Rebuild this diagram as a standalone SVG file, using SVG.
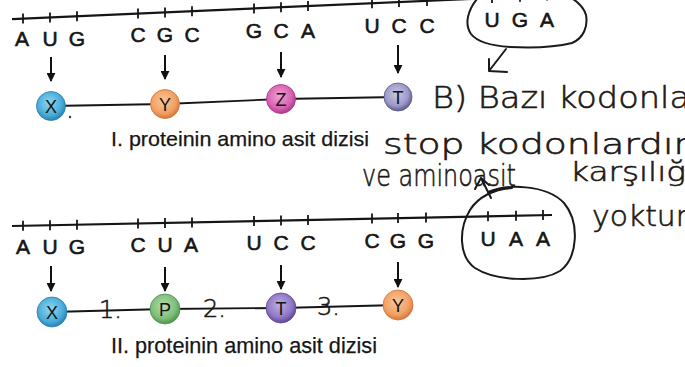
<svg xmlns="http://www.w3.org/2000/svg" width="685" height="367" viewBox="0 0 685 367">
  <defs>
    <radialGradient id="gBlue" cx="45%" cy="40%" r="60%">
      <stop offset="0" stop-color="#8fd6f2"/>
      <stop offset="0.7" stop-color="#49acd9"/>
      <stop offset="1" stop-color="#2a80b4"/>
    </radialGradient>
    <radialGradient id="gOrange" cx="45%" cy="40%" r="60%">
      <stop offset="0" stop-color="#fbc79a"/>
      <stop offset="0.7" stop-color="#f1a064"/>
      <stop offset="1" stop-color="#d8773a"/>
    </radialGradient>
    <radialGradient id="gPink" cx="45%" cy="40%" r="60%">
      <stop offset="0" stop-color="#f0a2d4"/>
      <stop offset="0.7" stop-color="#d862b2"/>
      <stop offset="1" stop-color="#ac3a88"/>
    </radialGradient>
    <radialGradient id="gLilac" cx="45%" cy="40%" r="60%">
      <stop offset="0" stop-color="#c9c8e6"/>
      <stop offset="0.7" stop-color="#9b98c6"/>
      <stop offset="1" stop-color="#5f5b8f"/>
    </radialGradient>
    <radialGradient id="gPurple" cx="45%" cy="40%" r="60%">
      <stop offset="0" stop-color="#c1b0e4"/>
      <stop offset="0.7" stop-color="#8f76c4"/>
      <stop offset="1" stop-color="#5d4896"/>
    </radialGradient>
    <radialGradient id="gGreen" cx="45%" cy="40%" r="60%">
      <stop offset="0" stop-color="#b6deaa"/>
      <stop offset="0.7" stop-color="#7dbd78"/>
      <stop offset="1" stop-color="#4b944e"/>
    </radialGradient>
    <marker id="head" viewBox="0 0 10 10" refX="9" refY="5" markerWidth="9" markerHeight="9" markerUnits="userSpaceOnUse" orient="auto">
      <path d="M0,0 L10,5 L0,10 Z" fill="#111"/>
    </marker>
    <style>
      .strand { stroke: #151515; stroke-width: 2.2; fill: none; }
      .tick { stroke: #151515; stroke-width: 1.8; }
      .base { font-family: "Liberation Sans", Arial, sans-serif; font-size: 21px; fill: #151515; stroke: #151515; stroke-width: 0.6; text-anchor: middle; }
      .arrow { stroke: #111; stroke-width: 2; fill: none; marker-end: url(#head); }
      .chain { stroke: #151515; stroke-width: 1.8; fill: none; }
      .aa { stroke-width: 0.8; }
      .aalabel { font-family: "Liberation Sans", Arial, sans-serif; font-size: 18px; fill: #141414; text-anchor: middle; }
      .caption { font-family: "Liberation Sans", Arial, sans-serif; fill: #161616; stroke: #161616; stroke-width: 0.25; }
      .hand { font-family: "DejaVu Sans", "Noto Sans", sans-serif; font-weight: 200; fill: #1d1916; stroke: #1d1916; stroke-width: 0.6; }
      .ink { stroke: #1d1916; stroke-width: 2; fill: none; stroke-linecap: round; stroke-linejoin: round; }
    </style>
  </defs>

  <rect width="685" height="367" fill="#ffffff"/>

  <!-- mRNA strand I -->
  <g id="mrna-1">
    <path class="strand" d="M12,19.1 L560,-5"/>
    <g class="tick">
      <line x1="23" y1="13.6" x2="23" y2="23.6"/>
      <line x1="50" y1="12.5" x2="50" y2="22.5"/>
      <line x1="77" y1="11.3" x2="77" y2="21.3"/>
      <line x1="138" y1="8.6" x2="138" y2="18.6"/>
      <line x1="165" y1="7.4" x2="165" y2="17.4"/>
      <line x1="192" y1="6.2" x2="192" y2="16.2"/>
      <line x1="254" y1="3.5" x2="254" y2="13.5"/>
      <line x1="281" y1="2.3" x2="281" y2="12.3"/>
      <line x1="308" y1="1.1" x2="308" y2="11.1"/>
      <line x1="372" y1="-1.7" x2="372" y2="8.3"/>
      <line x1="399" y1="-2.9" x2="399" y2="7.1"/>
      <line x1="427" y1="-4.1" x2="427" y2="5.9"/>
      <line x1="492" y1="-7" x2="492" y2="3"/>
      <line x1="520" y1="-8.2" x2="520" y2="1.8"/>
      <line x1="547" y1="-9.4" x2="547" y2="0.6"/>
    </g>
    <g class="base">
      <text x="22" y="46">A</text><text x="50" y="46">U</text><text x="77" y="46">G</text>
      <text x="138" y="42">C</text><text x="165" y="42">G</text><text x="192" y="42">C</text>
      <text x="254" y="38">G</text><text x="281" y="38">C</text><text x="308" y="38">A</text>
      <text x="372" y="33">U</text><text x="399" y="33">C</text><text x="427" y="33">C</text>
      <text x="492" y="27">U</text><text x="520" y="27">G</text><text x="547" y="27">A</text>
    </g>
  </g>

  <!-- mRNA strand II -->
  <g id="mrna-2">
    <path class="strand" d="M12,226 L552,215"/>
    <g class="tick">
      <line x1="23" y1="220.8" x2="23" y2="230.8"/>
      <line x1="50" y1="220.3" x2="50" y2="230.3"/>
      <line x1="77" y1="219.7" x2="77" y2="229.7"/>
      <line x1="138" y1="218.5" x2="138" y2="228.5"/>
      <line x1="165" y1="217.9" x2="165" y2="227.9"/>
      <line x1="192" y1="217.4" x2="192" y2="227.4"/>
      <line x1="254" y1="216.1" x2="254" y2="226.1"/>
      <line x1="281" y1="215.5" x2="281" y2="225.5"/>
      <line x1="308" y1="215" x2="308" y2="225"/>
      <line x1="372" y1="213.6" x2="372" y2="223.6"/>
      <line x1="398" y1="213.1" x2="398" y2="223.1"/>
      <line x1="426" y1="212.5" x2="426" y2="222.5"/>
      <line x1="488" y1="211.3" x2="488" y2="221.3"/>
      <line x1="516" y1="210.7" x2="516" y2="220.7"/>
      <line x1="543" y1="210.1" x2="543" y2="220.1"/>
    </g>
    <g class="base">
      <text x="23" y="254">A</text><text x="50" y="254">U</text><text x="77" y="254">G</text>
      <text x="138" y="252">C</text><text x="165" y="252">U</text><text x="191" y="252">A</text>
      <text x="254" y="250">U</text><text x="281" y="250">C</text><text x="308" y="250">C</text>
      <text x="372" y="248">C</text><text x="398" y="248">G</text><text x="426" y="248">G</text>
      <text x="488" y="246">U</text><text x="516" y="246">A</text><text x="543" y="246">A</text>
    </g>
  </g>

  <!-- connectors: codon-to-amino-acid arrows and peptide bonds -->
  <g id="connectors">
    <line class="arrow" x1="51" y1="57" x2="51" y2="81"/>
    <line class="arrow" x1="165" y1="55" x2="165" y2="79"/>
    <line class="arrow" x1="281" y1="52" x2="281" y2="77"/>
    <line class="arrow" x1="398" y1="45" x2="398" y2="73"/>
    <polyline class="chain" points="51,106 165,104 281,99 398,97"/>

    <line class="arrow" x1="51" y1="266" x2="51" y2="291"/>
    <line class="arrow" x1="165" y1="267" x2="165" y2="291"/>
    <line class="arrow" x1="281" y1="265" x2="281" y2="289"/>
    <line class="arrow" x1="398" y1="262" x2="398" y2="287"/>
    <polyline class="chain" points="52,312 165,309 281,308 398,305"/>
  </g>

  <!-- protein I -->
  <g id="aa-1-x"><circle class="aa" cx="51" cy="106" r="14.5" fill="url(#gBlue)" stroke="#2a7cb0"/><text class="aalabel" x="51" y="112.5">X</text></g>
  <g id="aa-1-y"><circle class="aa" cx="165" cy="104" r="14.5" fill="url(#gOrange)" stroke="#d47434"/><text class="aalabel" x="165" y="110.5">Y</text></g>
  <g id="aa-1-z"><circle class="aa" cx="281" cy="99" r="14.5" fill="url(#gPink)" stroke="#a83a86"/><text class="aalabel" x="281" y="105.5">Z</text></g>
  <g id="aa-1-t"><circle class="aa" cx="398" cy="97" r="14" fill="url(#gLilac)" stroke="#5c588a"/><text class="aalabel" x="398" y="103.5">T</text></g>
  <circle cx="70" cy="117" r="1.2" fill="#333"/>
  <text class="caption" x="111" y="146" font-size="21" textLength="258" lengthAdjust="spacingAndGlyphs">I. proteinin amino asit dizisi</text>

  <!-- protein II -->
  <g id="aa-2-x"><circle class="aa" cx="52" cy="312" r="15" fill="url(#gBlue)" stroke="#2a7cb0"/><text class="aalabel" x="52" y="318.5">X</text></g>
  <g id="aa-2-p"><circle class="aa" cx="165" cy="309" r="15" fill="url(#gGreen)" stroke="#4a924c"/><text class="aalabel" x="165" y="315.5">P</text></g>
  <g id="aa-2-t"><circle class="aa" cx="281" cy="308" r="15" fill="url(#gPurple)" stroke="#5a4592"/><text class="aalabel" x="281" y="314.5">T</text></g>
  <g id="aa-2-y"><circle class="aa" cx="398" cy="305" r="15" fill="url(#gOrange)" stroke="#d47434"/><text class="aalabel" x="398" y="311.5">Y</text></g>
  <text class="caption" x="111" y="353" font-size="22" textLength="266" lengthAdjust="spacingAndGlyphs">II. proteinin amino asit dizisi</text>

  <!-- handwritten notes -->
  <g id="notes">
    <path class="ink" d="M477,-1 C468,10 464,24 471,34 C478,43 494,46 510,47 C530,48 556,47 572,43 C584,38 588,26 586,15 C584,8 579,3 573,-1"/>
    <path class="ink" d="M506,49 L489,71 M489,59 L489,71 L507,72"/>
    <path class="ink" d="M488,192 C506,184 546,184 564,203 C580,222 578,258 560,271 C540,283 495,281 475,268 C458,256 459,228 470,210 C478,197 494,189 512,188"/>
    <path class="ink" d="M491,198 L481,178 M475,189 L481,178 L489,185"/>
    <text class="hand" x="432" y="108" font-size="30" textLength="258" lengthAdjust="spacingAndGlyphs">B) Bazı kodonla</text>
    <text class="hand" x="383" y="154" font-size="28" textLength="306" lengthAdjust="spacingAndGlyphs">stop kodonlardır</text>
    <text class="hand" x="362" y="186" font-size="30" textLength="154" lengthAdjust="spacingAndGlyphs">ve aminoasit</text>
    <text class="hand" x="570" y="181" font-size="27" textLength="116" lengthAdjust="spacingAndGlyphs">karşılığ</text>
    <text class="hand" x="592" y="226" font-size="28" textLength="96" lengthAdjust="spacingAndGlyphs">yoktur</text>
    <text class="hand" x="99" y="318" font-size="24">1.</text>
    <text class="hand" x="203" y="317" font-size="24">2.</text>
    <text class="hand" x="317" y="315" font-size="24">3.</text>
  </g>
</svg>
